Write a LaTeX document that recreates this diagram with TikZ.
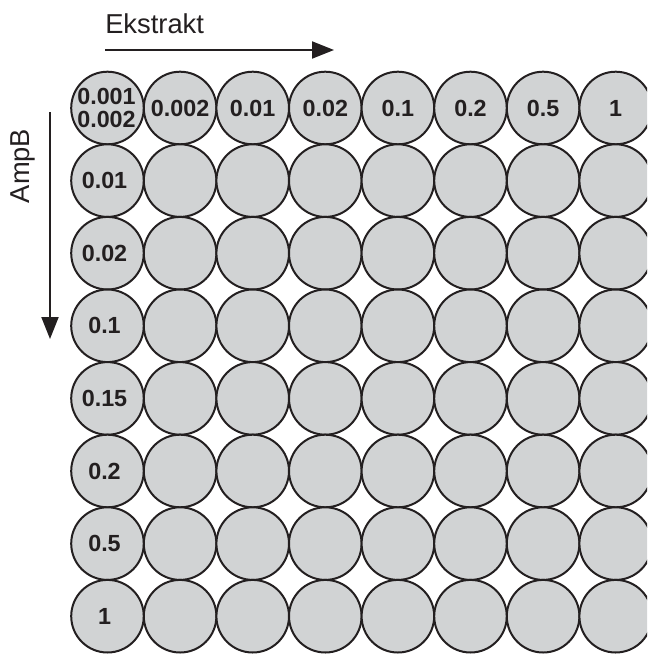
\documentclass[tikz,border=0pt]{standalone}
\usepackage{fontspec}
\setmainfont{Liberation Sans}
\usetikzlibrary{arrows.meta}
\definecolor{wellfill}{HTML}{D1D3D4}
\definecolor{ink}{HTML}{231F20}
\tikzset{
  well/.style={circle, draw=ink, line width=1.5pt, fill=wellfill,
    minimum size=54.45pt, inner sep=0pt},
  conc/.style={font=\fontsize{17.5}{17.5}\selectfont\bfseries, text=ink, inner sep=0pt, align=center},
  axisarrow/.style={line width=1.5pt, draw=ink, -{Triangle[length=16.5pt, width=12.75pt]}},
  axislabel/.style={font=\fontsize{20.5}{22}\selectfont, text=ink, inner sep=0pt}
}
\begin{document}
\begin{tikzpicture}[x=0.75pt, y=-0.75pt]
  \useasboundingbox (0,0) rectangle (647,654);
  \clip (0,0) rectangle (647,654);
  % plate of 8 x 8 wells
  \foreach \r in {1,...,8}{
    \foreach \c in {1,...,8}{
      \node[well] (w-\r-\c) at ({107.5+72.6*(\c-1)}, {108+72.6*(\r-1)}) {};
    }
  }
  % concentrations along the top row
  \node[conc] (t-1) at ([xshift=-0.75pt]w-1-1.center) {0.001\\0.002};
  \foreach \c/\t in {2/0.002,3/0.01,4/0.02,5/0.1,6/0.2,7/0.5,8/1}{
    \node[conc] (t-\c) at (w-1-\c.center) {\t};
  }
  % concentrations down the first column
  \foreach \r/\t in {2/0.01,3/0.02,4/0.1,5/0.15,6/0.2,7/0.5,8/1}{
    \node[conc] (l-\r) at ([xshift=-2.25pt]w-\r-1.center) {\t};
  }
  % axis titles and arrows
  \node[axislabel, anchor=base west] (ekstrakt) at (105,33) {Ekstrakt};
  \coordinate (ex0) at (105,50);
  \coordinate (ex1) at (334,50);
  \draw[axisarrow] (ex0) -- (ex1);
  \node[axislabel, rotate=90, anchor=base] (ampb) at (30,166) {AmpB};
  \coordinate (ay0) at (50,112);
  \coordinate (ay1) at (50,339);
  \draw[axisarrow] (ay0) -- (ay1);
\end{tikzpicture}
\end{document}
